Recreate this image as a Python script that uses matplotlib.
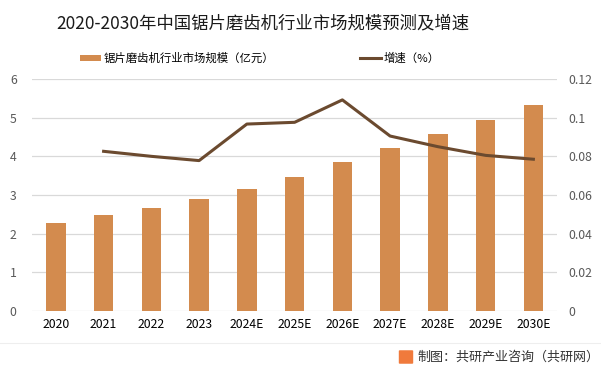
import matplotlib
matplotlib.use("Agg")
import matplotlib.pyplot as plt
from matplotlib.patches import FancyBboxPatch
from matplotlib.lines import Line2D
from matplotlib.patches import Patch

plt.rcParams['font.family'] = ['Noto Sans CJK SC', 'DejaVu Sans']

categories = ["2020", "2021", "2022", "2023", "2024E", "2025E", "2026E", "2027E", "2028E", "2029E", "2030E"]
market_size = [2.28, 2.48, 2.66, 2.90, 3.15, 3.47, 3.85, 4.22, 4.58, 4.94, 5.33]
growth_cats = categories[1:]
growth = [0.0826, 0.0800, 0.0778, 0.0967, 0.0976, 0.1092, 0.0905, 0.0850, 0.0805, 0.0785]
left_ticks = [0, 1, 2, 3, 4, 5, 6]
right_ticks = [0, 0.02, 0.04, 0.06, 0.08, 0.1, 0.12]
right_labels = ["0", "0.02", "0.04", "0.06", "0.08", "0.1", "0.12"]

title = "2020-2030年中国锯片磨齿机行业市场规模预测及增速"
bar_label = "锯片磨齿机行业市场规模（亿元）"
line_label = "增速（%）"
source = "制图：共研产业咨询（共研网）"

bar_color = "#D38B4E"
line_color = "#6B4A2F"
tick_color = "#595959"
grid_color = "#D9D9D9"

fig = plt.figure(figsize=(6.01, 3.75), dpi=100)
ax = fig.add_axes([0.0532, 0.1707, 0.874, 0.6186])
x = list(range(len(categories)))
ax.bar(x, market_size, width=0.41, color=bar_color, zorder=2)
ax.set_xlim(-0.5, len(categories) - 0.5)
ax.set_ylim(0, 6)
ax.set_yticks(left_ticks)
ax.set_xticks(x)
ax.set_xticklabels(categories)
ax.grid(axis='y', color=grid_color, linewidth=0.9, zorder=0)
ax.set_axisbelow(True)
for s in ax.spines.values():
    s.set_visible(False)
ax.tick_params(axis='both', length=0, labelsize=8.8, colors=tick_color)
ax.tick_params(axis='x', colors='black', pad=5)
ax.tick_params(axis='y', pad=11)

ax2 = ax.twinx()
gx = [categories.index(c) for c in growth_cats]
ax2.plot(gx, growth, color=line_color, linewidth=2.2, zorder=3)
ax2.set_ylim(0, 0.12)
ax2.set_yticks(right_ticks)
ax2.set_yticklabels(right_labels)
for s in ax2.spines.values():
    s.set_visible(False)
ax2.tick_params(axis='y', length=0, labelsize=8.8, colors=tick_color, pad=8)

fig.text(263/601, 1 - 23/375, title, ha='center', va='center', fontsize=12.5, color='#1a1a1a')

handles = [Patch(facecolor=bar_color, edgecolor='none'),
           Line2D([0], [0], color=line_color, linewidth=2.2)]
fig.legend(handles, [bar_label, line_label], loc='center left', bbox_to_anchor=(71/601, 0.845),
           ncol=2, frameon=False, fontsize=8.2, handlelength=1.85, handleheight=0.5,
           handletextpad=0.25, columnspacing=7.5, borderpad=0.3)

# footer
fig.add_artist(Line2D([0.0, 1.0], [1 - 343/375, 1 - 343/375], transform=fig.transFigure,
                      color='#EEEEEE', linewidth=0.8))
fig.add_artist(FancyBboxPatch((400/601, 1 - 363/375), 12/601, 12/375,
                              boxstyle='round,pad=0.002', transform=fig.transFigure,
                              facecolor='#F07A3C', edgecolor='none'))
fig.text(417/601, 1 - 357/375, source, ha='left', va='center', fontsize=9.4, color='#333333')

fig.savefig("out.png", dpi=100, facecolor='white')
